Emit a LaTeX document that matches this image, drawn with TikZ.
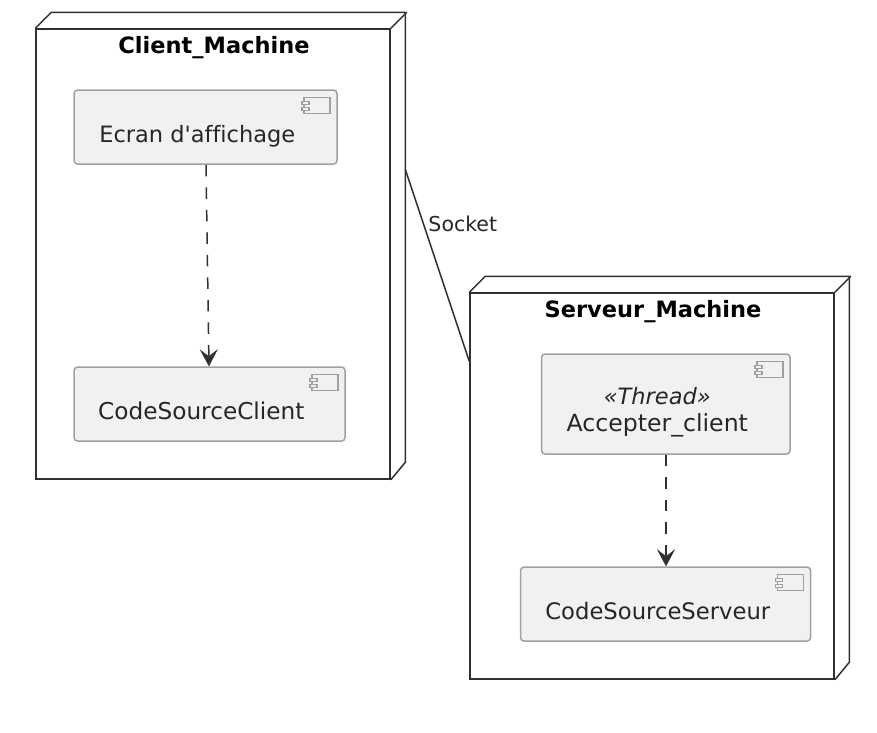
\documentclass[tikz,border=0pt]{standalone}
\usepackage{fontspec}
\setmainfont{DejaVu Sans}
\newfontfamily\compfont{DejaVu Sans}[Ligatures=NoCommon]
\usetikzlibrary{arrows.meta,calc}
\definecolor{compfill}{HTML}{F1F1F1}
\definecolor{compline}{HTML}{A0A0A0}
\definecolor{inkline}{HTML}{303030}
\tikzset{
	machine/.style={draw=inkline, line width=1.5pt, fill=white, inner sep=0pt, anchor=north west},
	depth/.style={draw=inkline, line width=1.5pt},
	machinetitle/.style={font=\fontsize{22.5}{26}\selectfont\bfseries, text=black, inner sep=0pt, anchor=base},
	compbox/.style={draw=compline, line width=1.5pt, fill=compfill, rounded corners=3.5pt, inner sep=0pt, anchor=north west},
	compicon/.style={draw=compline, line width=1.4pt, fill=compfill},
	complabel/.style={font=\compfont\fontsize{22.5}{26.5}\selectfont, text=black!85, inner sep=0pt, align=center, anchor=base},
	dep/.style={draw=inkline, line width=1.5pt, dash pattern=on 11.5pt off 11pt, -{Stealth[length=17pt,width=18pt,inset=7pt,line width=0.5pt]}},
	link/.style={draw=inkline, line width=1.5pt}
}
% client and server machine, icon at top right of a box
\def\machinebox#1(#2,#3)(#4,#5)#6{
	\node[machine, minimum width=#4pt, minimum height=#5pt] (#1) at (#2,#3) {};
	\draw[depth] (#1.north west) -- ++(16,-16) -- ++(#4,0) -- ++(0,#5) -- (#1.south east);
	\draw[depth] (#1.north east) -- ++(16,-16);
	\node[machinetitle] (#1title) at ($(#1.north)+(1,25)$) {#6};
}
\def\compicon#1{
	\draw[compicon] ($(#1.north east)+(-34,8)$) rectangle ++(26,16);
	\draw[compicon] ($(#1.north east)+(-36,12)$) rectangle ++(7,3);
	\draw[compicon] ($(#1.north east)+(-36,18)$) rectangle ++(7,3);
}
\begin{document}
\begin{tikzpicture}[x=1pt, y=-1pt]
	\useasboundingbox (0.7,0.7) rectangle (877.7,732.7);
	%%%%% MACHINES %%%%%
	\machinebox{client}(36,29)(354,450){Client\_Machine}
	\machinebox{server}(470,293)(364,386){Serveur\_Machine}

	%%%%% COMPONENTS %%%%%
	\node[compbox, minimum width=263pt, minimum height=74pt] (ecran) at (74,90) {};
	\node[complabel] (ecranlabel) at (198,143) {Ecran d\textquotesingle affichage};
	\compicon{ecran}

	\node[compbox, minimum width=271pt, minimum height=74pt] (codeclient) at (74,367) {};
	\node[complabel, font=\compfont\fontsize{23.2}{26.5}\selectfont] (codeclientlabel) at (202,420) {CodeSourceClient};
	\compicon{codeclient}

	\node[compbox, minimum width=248.5pt, minimum height=100pt] (accepter) at (541.5,354) {};
	\node[complabel] (accepterlabel) at (658,431.7) {{\itshape «Thread»}\\{\fontsize{23.6}{26.5}\selectfont Accepter\_client}};
	\compicon{accepter}

	\node[compbox, minimum width=290pt, minimum height=74pt] (codeserveur) at (520.5,567) {};
	\node[complabel, font=\compfont\fontsize{22.7}{26.5}\selectfont] (codeserveurlabel) at (658.5,620) {CodeSourceServeur};
	\compicon{codeserveur}

	%%%%% CONNECTORS %%%%%
	\draw[dep] (ecran.south -| 206.7,0) -- (codeclient.north -| 209.7,0);
	\draw[dep] (accepter.south -| 666.7,0) -- (codeserveur.north -| 666.7,0);

	\coordinate (sockclient) at (406,170);
	\coordinate (sockserver) at (470,362);
	\draw[link] (sockclient) -- (sockserver);
	\node[font=\fontsize{20.5}{24}\selectfont, text=black!85, inner sep=0pt, anchor=base] (socket) at (463.5,232) {Socket};
\end{tikzpicture}
\end{document}
